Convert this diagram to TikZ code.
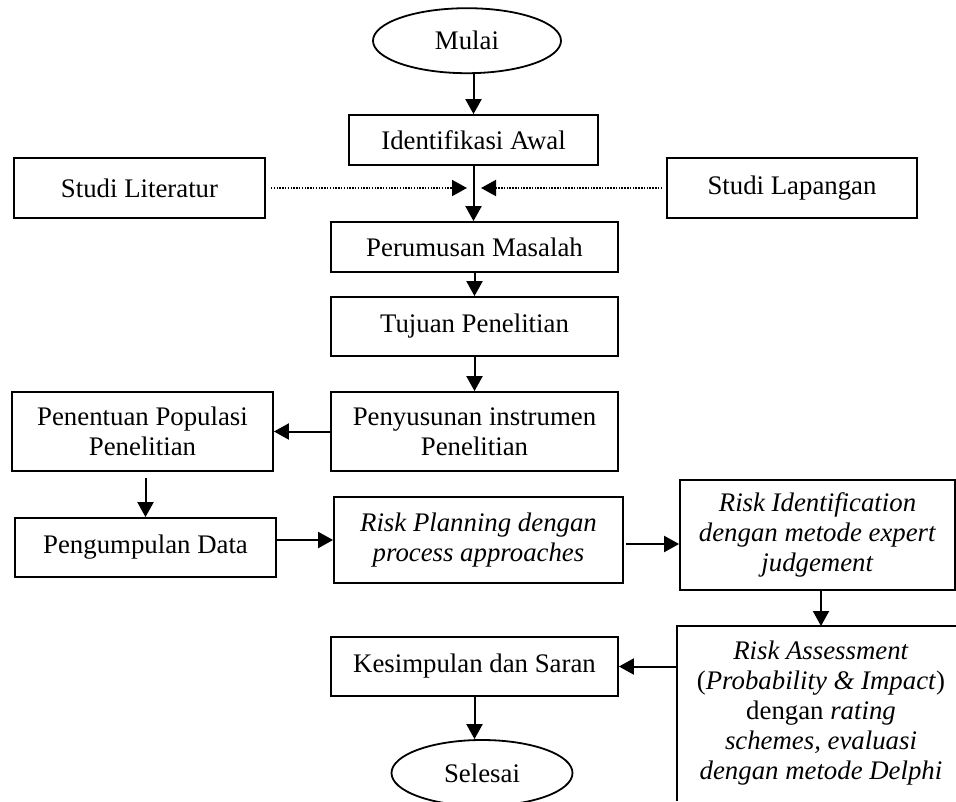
\documentclass[tikz,border=0pt]{standalone}
\usepackage{fontspec}
\setmainfont{Liberation Serif}
\usetikzlibrary{arrows.meta,shapes.geometric}
\begin{document}
\begin{tikzpicture}[x=1pt,y=-1pt,
  every node/.style={font=\fontsize{26.8}{30}\selectfont, inner sep=0pt, align=center},
  box/.style={draw, line width=1.8pt, rectangle},
  oval/.style={draw, line width=1.8pt, ellipse},
  flow/.style={line width=2pt, -{Triangle[length=15pt,width=16pt]}},
  dotflow/.style={line width=2pt, dash pattern=on 1.5pt off 1.3pt, -{Triangle[length=15pt,width=16pt]}}
]
\useasboundingbox (0,0) rectangle (956,801);
\clip (0,0) rectangle (956,801);

\node[oval, minimum width=188pt, minimum height=65pt] (mulai) at (467,40.7) {Mulai};
\node[box, minimum width=249pt, minimum height=50pt] (ident) at (473.5,140) {Identifikasi Awal};
\node[box, minimum width=251pt, minimum height=60pt] (lit) at (139.5,188) {Studi Literatur};
\node[box, minimum width=250pt, minimum height=60pt] (lap) at (792,188) {Studi Lapangan};
\node[box, minimum width=287pt, minimum height=50pt] (rumus) at (474.5,247) {Perumusan Masalah};
\node[box, minimum width=287pt, minimum height=59pt] (tujuan) at (474.5,326.5) {Tujuan Penelitian};
\node[box, minimum width=287pt, minimum height=79pt] (susun) at (474.5,431.5) {Penyusunan instrumen\\Penelitian};
\node[box, minimum width=261pt, minimum height=79pt] (populasi) at (142.5,431.5) {Penentuan Populasi\\Penelitian};
\node[box, minimum width=261pt, minimum height=59pt] (kumpul) at (145.5,547.5) {Pengumpulan Data};
\node[box, minimum width=289pt, minimum height=86pt] (plan) at (478.5,540) {\textit{Risk Planning dengan}\\\textit{process approaches}};
\node[box, minimum width=275pt, minimum height=110pt] (riskid) at (817.5,535) {\textit{Risk Identification}\\\textit{dengan metode expert}\\\textit{judgement}};
\node[box, minimum width=287pt, minimum height=59pt] (simpul) at (474.5,666.5) {Kesimpulan dan Saran};
\node[oval, minimum width=181pt, minimum height=66pt] (selesai) at (482,773) {Selesai};

% open-bottom assessment box
\coordinate (astop) at (821,626);
\coordinate (asleft) at (677,666.5);
\draw[line width=1.8pt] (677,801) -- (677,626) -- (957,626);
\node (assess) at (821,713) {\textit{Risk Assessment}\\(\textit{Probability \& Impact})\\dengan \textit{rating}\\\textit{schemes, evaluasi}\\\textit{dengan metode Delphi}};

% junction coordinates for dotted arrows
\coordinate (jl) at (467,188);
\coordinate (jr) at (481,188);

\draw[flow] (ident.north |- mulai.south) -- (ident.north);
\draw[flow] (ident.south) -- (ident.south |- rumus.north);
\draw[dotflow] (lit.east) ++(5,0) -- (jl);
\draw[dotflow] (lap.west) ++(-4,0) -- (jr);
\draw[flow] (rumus.south) -- (tujuan.north);
\draw[flow] (tujuan.south) -- (susun.north);
\draw[flow] (susun.west) -- (populasi.east);
\draw[flow] (kumpul.north |- populasi.south) ++(0,6) -- (kumpul.north);
\draw[flow] (kumpul.east |- plan.west) -- (plan.west);
\draw[flow] (plan.east) ++(2,4) -- (riskid.west |- {(0,544)});
\draw[flow] (astop |- riskid.south) -- (astop);
\draw[flow] (asleft) -- (simpul.east);
\draw[flow] (simpul.south) -- (simpul.south |- selesai.north);
\end{tikzpicture}
\end{document}
